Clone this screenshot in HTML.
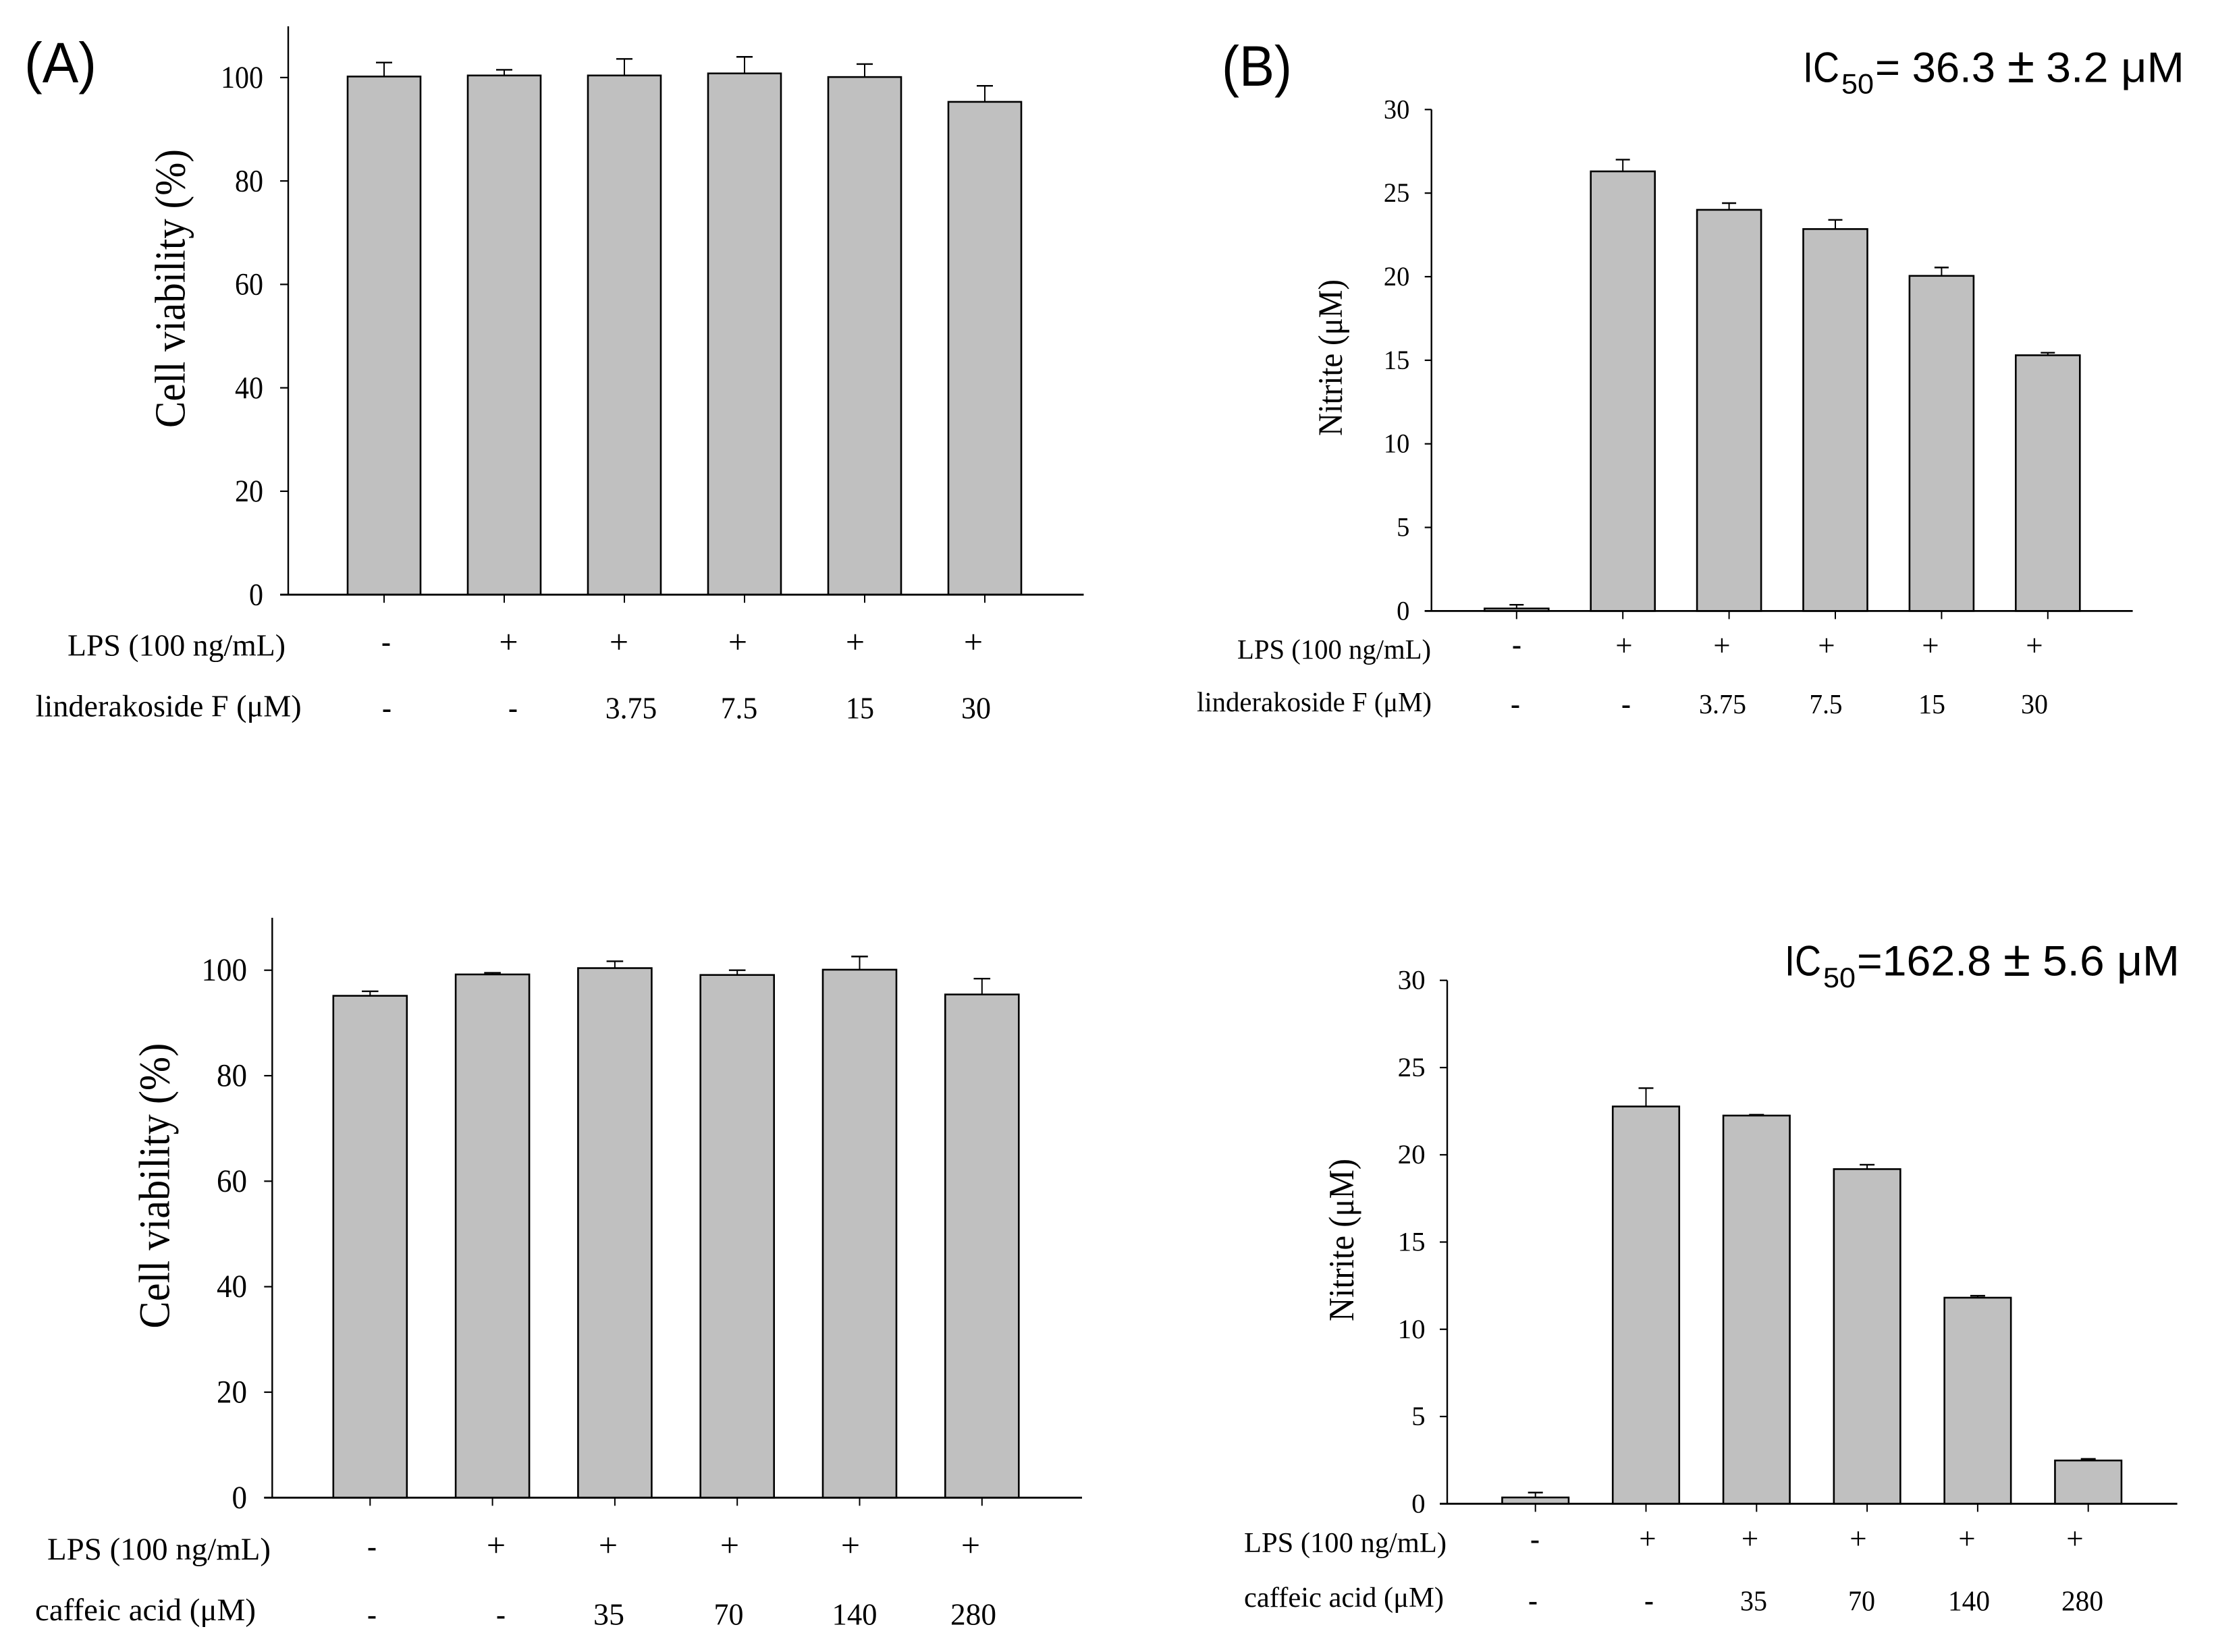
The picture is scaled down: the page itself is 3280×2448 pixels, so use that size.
<!DOCTYPE html>
<html lang="en">
<head>
<meta charset="utf-8">
<title>Cell viability and nitrite bar charts</title>
<style>
  html, body { margin: 0; padding: 0; background: #fff; }
  #figure { display: block; width: 3280px; height: 2448px; background: #fff; }
  text { font-family: "Liberation Serif", serif; fill: #000; }
  .sans text, text.sans { font-family: "Liberation Sans", sans-serif; }
  .plus { font-size: 50px; text-anchor: middle; }
  .plus-small { font-size: 45px; text-anchor: middle; }
  .minus { font-size: 42px; font-weight: bold; text-anchor: middle; }
</style>
</head>
<body>
<svg id="figure" xmlns="http://www.w3.org/2000/svg" width="3280" height="2448" viewBox="0 0 3280 2448">
  <rect x="0" y="0" width="3280" height="2448" fill="#ffffff"/>

  <g id="panel-a-top"></g>
  <g id="panel-b-top"></g>
  <g id="panel-a-bottom"></g>
  <g id="panel-b-bottom"></g>

  <!-- Panel letters -->
  <text class="sans" x="36" y="122" font-size="84" textLength="107" lengthAdjust="spacingAndGlyphs">(A)</text>
  <text class="sans" x="1810" y="127" font-size="84" textLength="104" lengthAdjust="spacingAndGlyphs">(B)</text>

  <!-- IC50 annotation, top -->
  <g class="sans">
    <text x="2671" y="121.5" font-size="63" textLength="54" lengthAdjust="spacingAndGlyphs">IC</text>
    <text x="2728" y="138.3" font-size="42" textLength="48" lengthAdjust="spacingAndGlyphs">50</text>
    <text x="2778" y="121.5" font-size="63" textLength="178" lengthAdjust="spacingAndGlyphs">= 36.3</text>
    <text x="2974" y="122" font-size="74" textLength="40" lengthAdjust="spacingAndGlyphs">±</text>
    <text x="3031" y="121.5" font-size="63" textLength="205" lengthAdjust="spacingAndGlyphs">3.2 μM</text>
  </g>

  <!-- IC50 annotation, bottom -->
  <g class="sans">
    <text x="2644" y="1445.7" font-size="63" textLength="54" lengthAdjust="spacingAndGlyphs">IC</text>
    <text x="2701" y="1463" font-size="42" textLength="48" lengthAdjust="spacingAndGlyphs">50</text>
    <text x="2751" y="1445.7" font-size="63" textLength="199" lengthAdjust="spacingAndGlyphs">=162.8</text>
    <text x="2968" y="1446" font-size="74" textLength="40" lengthAdjust="spacingAndGlyphs">±</text>
    <text x="3026" y="1445.7" font-size="63" textLength="203" lengthAdjust="spacingAndGlyphs">5.6 μM</text>
  </g>

  <!-- Axis titles -->
  <text transform="translate(273.5,634) rotate(-90)" font-size="64" textLength="413" lengthAdjust="spacingAndGlyphs">Cell viability (%)</text>
  <text transform="translate(1988,646) rotate(-90)" font-size="51" textLength="232" lengthAdjust="spacingAndGlyphs">Nitrite (μM)</text>
  <text transform="translate(250.5,1968.6) rotate(-90)" font-size="65" textLength="423" lengthAdjust="spacingAndGlyphs">Cell viability (%)</text>
  <text transform="translate(2005,1958) rotate(-90)" font-size="53" textLength="241" lengthAdjust="spacingAndGlyphs">Nitrite (μM)</text>

  <!-- Treatment rows: panel A top -->
  <g>
    <text x="100" y="971.7" font-size="46" textLength="323" lengthAdjust="spacingAndGlyphs">LPS (100 ng/mL)</text>
    <text x="52.7" y="1061.7" font-size="46" textLength="394" lengthAdjust="spacingAndGlyphs">linderakoside F (μM)</text>
    <text class="minus" x="572" y="965">-</text>
    <text class="plus" x="753.5" y="968">+</text>
    <text class="plus" x="917" y="968">+</text>
    <text class="plus" x="1093" y="968">+</text>
    <text class="plus" x="1267" y="968">+</text>
    <text class="plus" x="1442" y="968">+</text>
    <text class="minus" x="573" y="1063">-</text>
    <text class="minus" x="760" y="1063">-</text>
    <text x="935" y="1064.5" font-size="45" text-anchor="middle" textLength="76.5" lengthAdjust="spacingAndGlyphs">3.75</text>
    <text x="1095" y="1064.5" font-size="45" text-anchor="middle" textLength="54.5" lengthAdjust="spacingAndGlyphs">7.5</text>
    <text x="1274" y="1064.5" font-size="45" text-anchor="middle" textLength="42" lengthAdjust="spacingAndGlyphs">15</text>
    <text x="1446" y="1064.5" font-size="45" text-anchor="middle" textLength="44" lengthAdjust="spacingAndGlyphs">30</text>
  </g>

  <!-- Treatment rows: panel B top -->
  <g>
    <text x="1833" y="976" font-size="41" textLength="287" lengthAdjust="spacingAndGlyphs">LPS (100 ng/mL)</text>
    <text x="1773" y="1054" font-size="41" textLength="348" lengthAdjust="spacingAndGlyphs">linderakoside F (μM)</text>
    <text class="minus" x="2247" y="969">-</text>
    <text class="plus-small" x="2406" y="971.5">+</text>
    <text class="plus-small" x="2551" y="971.5">+</text>
    <text class="plus-small" x="2706" y="971.5">+</text>
    <text class="plus-small" x="2860" y="971.5">+</text>
    <text class="plus-small" x="3014" y="971.5">+</text>
    <text class="minus" x="2245" y="1057">-</text>
    <text class="minus" x="2409" y="1057">-</text>
    <text x="2552" y="1057" font-size="41" text-anchor="middle" textLength="70" lengthAdjust="spacingAndGlyphs">3.75</text>
    <text x="2705" y="1057" font-size="41" text-anchor="middle" textLength="49" lengthAdjust="spacingAndGlyphs">7.5</text>
    <text x="2862" y="1057" font-size="41" text-anchor="middle" textLength="40" lengthAdjust="spacingAndGlyphs">15</text>
    <text x="3014" y="1057" font-size="41" text-anchor="middle" textLength="40" lengthAdjust="spacingAndGlyphs">30</text>
  </g>

  <!-- Treatment rows: panel A bottom -->
  <g>
    <text x="70" y="2311" font-size="47" textLength="331" lengthAdjust="spacingAndGlyphs">LPS (100 ng/mL)</text>
    <text x="52" y="2401" font-size="47" textLength="327" lengthAdjust="spacingAndGlyphs">caffeic acid (μM)</text>
    <text class="minus" x="551" y="2305.5">-</text>
    <text class="plus" x="735" y="2306.6">+</text>
    <text class="plus" x="901" y="2306.6">+</text>
    <text class="plus" x="1081" y="2306.6">+</text>
    <text class="plus" x="1260" y="2306.6">+</text>
    <text class="plus" x="1438" y="2306.6">+</text>
    <text class="minus" x="551" y="2406.5">-</text>
    <text class="minus" x="742" y="2406.5">-</text>
    <text x="902" y="2407.4" font-size="46" text-anchor="middle" textLength="46" lengthAdjust="spacingAndGlyphs">35</text>
    <text x="1079.5" y="2407.4" font-size="46" text-anchor="middle" textLength="44" lengthAdjust="spacingAndGlyphs">70</text>
    <text x="1266" y="2407.4" font-size="46" text-anchor="middle" textLength="67" lengthAdjust="spacingAndGlyphs">140</text>
    <text x="1442" y="2407.4" font-size="46" text-anchor="middle" textLength="68" lengthAdjust="spacingAndGlyphs">280</text>
  </g>

  <!-- Treatment rows: panel B bottom -->
  <g>
    <text x="1843" y="2300" font-size="42.5" textLength="300" lengthAdjust="spacingAndGlyphs">LPS (100 ng/mL)</text>
    <text x="1843" y="2381" font-size="42.5" textLength="296" lengthAdjust="spacingAndGlyphs">caffeic acid (μM)</text>
    <text class="minus" x="2274" y="2294.5">-</text>
    <text class="plus-small" x="2441" y="2295">+</text>
    <text class="plus-small" x="2592.6" y="2295">+</text>
    <text class="plus-small" x="2753" y="2295">+</text>
    <text class="plus-small" x="2914" y="2295">+</text>
    <text class="plus-small" x="3074" y="2295">+</text>
    <text class="minus" x="2271" y="2385.5">-</text>
    <text class="minus" x="2443" y="2385.5">-</text>
    <text x="2598" y="2386.7" font-size="42" text-anchor="middle" textLength="40" lengthAdjust="spacingAndGlyphs">35</text>
    <text x="2758" y="2386.7" font-size="42" text-anchor="middle" textLength="40" lengthAdjust="spacingAndGlyphs">70</text>
    <text x="2917" y="2386.7" font-size="42" text-anchor="middle" textLength="62" lengthAdjust="spacingAndGlyphs">140</text>
    <text x="3085" y="2386.7" font-size="42" text-anchor="middle" textLength="62" lengthAdjust="spacingAndGlyphs">280</text>
  </g>
</svg>

<script>
// Chart data
const linderakosideDoses = ["control", "LPS", "3.75", "7.5", "15", "30"];
const caffeicDoses = ["control", "LPS", "35", "70", "140", "280"];

const viabilityTicks = [0, 20, 40, 60, 80, 100];
const nitriteTicks = [0, 5, 10, 15, 20, 25, 30];

const viabilityLinderakoside = [100.2, 100.4, 100.4, 100.8, 100.1, 95.3];
const viabilityLinderakosideUpper = [102.9, 101.5, 103.6, 104.0, 102.6, 98.4];

const nitriteLinderakoside = [0.15, 26.3, 24.0, 22.85, 20.05, 15.3];
const nitriteLinderakosideUpper = [0.37, 27.0, 24.4, 23.4, 20.55, 15.45];

const viabilityCaffeic = [95.15, 99.2, 100.4, 99.1, 100.1, 95.4];
const viabilityCaffeicUpper = [96.0, 99.5, 101.7, 100.0, 102.6, 98.4];

const nitriteCaffeic = [0.36, 22.77, 22.25, 19.18, 11.81, 2.48];
const nitriteCaffeicUpper = [0.64, 23.82, 22.3, 19.43, 11.92, 2.57];

const SVG_NS = "http://www.w3.org/2000/svg";

function linearScale(domainMax, pixelAtZero, pixelAtMax) {
  return function (v) {
    return pixelAtZero + (v / domainMax) * (pixelAtMax - pixelAtZero);
  };
}

function makeLine(parent, x1, y1, x2, y2, width) {
  const el = document.createElementNS(SVG_NS, "line");
  el.setAttribute("x1", x1);
  el.setAttribute("y1", y1);
  el.setAttribute("x2", x2);
  el.setAttribute("y2", y2);
  el.setAttribute("stroke", "#000");
  el.setAttribute("stroke-width", width);
  parent.appendChild(el);
  return el;
}

function drawChart(targetId, layout, categories, values, upper, ticks) {
  const root = document.getElementById(targetId);
  const y = linearScale(layout.domainMax, layout.y0, layout.yMax);
  const x = function (i) { return layout.x0 + i * layout.step; };

  categories.forEach(function (category, i) {
    const cx = x(i);

    const stem = makeLine(root, cx, y(upper[i]), cx, y(values[i]), 2);
    
    

    const cap = makeLine(root, cx - layout.capHalf, y(upper[i]), cx + layout.capHalf, y(upper[i]), 2.4);
    
    

    const bar = document.createElementNS(SVG_NS, "rect");
    bar.setAttribute("x", cx - layout.barWidth / 2);
    bar.setAttribute("y", y(values[i]));
    bar.setAttribute("width", layout.barWidth);
    bar.setAttribute("height", layout.y0 - y(values[i]));
    bar.setAttribute("fill", "#c0c0c0");
    bar.setAttribute("stroke", "#000");
    bar.setAttribute("stroke-width", 2.6);
    
    
    root.appendChild(bar);

    const xTick = makeLine(root, cx, layout.y0, cx, layout.y0 + 12, 2);
    
    
  });

  const yAxis = makeLine(root, layout.axisX, layout.axisTop, layout.axisX, layout.y0, 2.4);
  
  

  const xAxis = makeLine(root, layout.axisX - layout.tickLen, layout.y0, layout.axisRight, layout.y0, 2.8);
  
  

  ticks.forEach(function (t) {
    const tick = makeLine(root, layout.axisX - layout.tickLen, y(t), layout.axisX, y(t), 2.2);
    
    

    const label = document.createElementNS(SVG_NS, "text");
    const str = String(t);
    label.setAttribute("x", layout.labelRight);
    label.setAttribute("y", y(t) + layout.labelDy);
    label.setAttribute("font-size", layout.labelSize);
    label.setAttribute("text-anchor", "end");
    label.setAttribute("textLength", layout.digitWidth * str.length);
    label.setAttribute("lengthAdjust", "spacingAndGlyphs");
    label.textContent = str;
    
    
    root.appendChild(label);
  });
}

drawChart("panel-a-top",
  { domainMax: 100, y0: 881.2, yMax: 114.9, axisX: 427, axisTop: 39, axisRight: 1605.5, tickLen: 12,
    x0: 569, step: 178, barWidth: 108, capHalf: 12, labelRight: 390, labelDy: 15.3, labelSize: 47, digitWidth: 21 },
  linderakosideDoses, viabilityLinderakoside, viabilityLinderakosideUpper, viabilityTicks);

drawChart("panel-b-top",
  { domainMax: 30, y0: 905.4, yMax: 162.3, axisX: 2120.7, axisTop: 162.3, axisRight: 3159.6, tickLen: 10,
    x0: 2246.8, step: 157.4, barWidth: 95, capHalf: 10.5, labelRight: 2088.3, labelDy: 13, labelSize: 40, digitWidth: 19.2 },
  linderakosideDoses, nitriteLinderakoside, nitriteLinderakosideUpper, nitriteTicks);

drawChart("panel-a-bottom",
  { domainMax: 100, y0: 2219.3, yMax: 1437.7, axisX: 403.3, axisTop: 1360, axisRight: 1603, tickLen: 12,
    x0: 548.3, step: 181.3, barWidth: 109, capHalf: 12.3, labelRight: 366, labelDy: 15.5, labelSize: 48, digitWidth: 22.5 },
  caffeicDoses, viabilityCaffeic, viabilityCaffeicUpper, viabilityTicks);

drawChart("panel-b-bottom",
  { domainMax: 30, y0: 2228.3, yMax: 1452.7, axisX: 2144, axisTop: 1452.7, axisRight: 3225.6, tickLen: 11,
    x0: 2274.7, step: 163.8, barWidth: 98.5, capHalf: 11, labelRight: 2111.6, labelDy: 13, labelSize: 40, digitWidth: 20.5 },
  caffeicDoses, nitriteCaffeic, nitriteCaffeicUpper, nitriteTicks);
</script>
</body>
</html>
